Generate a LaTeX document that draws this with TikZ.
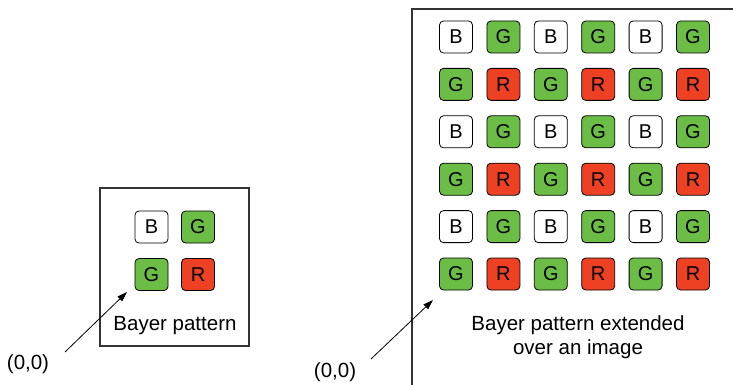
\documentclass[tikz,border=0pt]{standalone}
\usepackage{fontspec}
\setmainfont{Liberation Sans}
\usetikzlibrary{arrows.meta}
\definecolor{cg}{HTML}{6CBD45}
\definecolor{cr}{HTML}{EE4023}
\definecolor{frame}{HTML}{333333}
\tikzset{
  cell/.style={draw=black, line width=0.8pt, rounded corners=4pt, minimum width=33pt, minimum height=32pt, inner sep=0pt, font=\fontsize{20}{22}\selectfont},
  cB/.style={cell, fill=white},
  cG/.style={cell, fill=cg},
  cR/.style={cell, fill=cr},
  lbl/.style={font=\fontsize{20.5}{24}\selectfont, align=center, inner sep=0pt},
  arr/.style={-{Triangle[length=10pt,width=6.5pt]}, line width=0.8pt},
  boxline/.style={draw=frame, line width=1.2pt}
}
\begin{document}
\begin{tikzpicture}[x=1pt,y=-1pt]
\useasboundingbox (0,0) rectangle (733,385);
% small box
\draw[boxline] (100,188) rectangle (249,346);
\node[cB] (s11) at (151.5,227) {B};
\node[cG] (s12) at (198,227) {G};
\node[cG] (s21) at (151.5,274.5) {G};
\node[cR] (s22) at (198,274.5) {R};
\node[lbl] (slabel) at (175,326) {Bayer pattern};
\node[lbl] (o1) at (28,364) {(0,0)};
\coordinate (a1s) at (65,352);
\coordinate (a1e) at (127,292);
\draw[arr] (a1s) -- (a1e);
% big box (extends beyond the picture)
\draw[boxline] (412,385) -- (412,9) -- (733,9);
\foreach \j in {0,...,5}{
  \foreach \i in {0,...,5}{
    \pgfmathtruncatemacro{\ri}{mod(\j,2)}
    \pgfmathtruncatemacro{\ci}{mod(\i,2)}
    \ifnum\ri=0
      \ifnum\ci=0
        \node[cB] (b\j\i) at (456+47.4*\i, 37+47.4*\j) {B};
      \else
        \node[cG] (b\j\i) at (456+47.4*\i, 37+47.4*\j) {G};
      \fi
    \else
      \ifnum\ci=0
        \node[cG] (b\j\i) at (456+47.4*\i, 37+47.4*\j) {G};
      \else
        \node[cR] (b\j\i) at (456+47.4*\i, 37+47.4*\j) {R};
      \fi
    \fi
  }
}
\node[lbl] (blabel) at (578,337) {Bayer pattern extended\\over an image};
\node[lbl] (o2) at (335,372) {(0,0)};
\coordinate (a2s) at (371,359);
\coordinate (a2e) at (433,300);
\draw[arr] (a2s) -- (a2e);
\end{tikzpicture}
\end{document}
